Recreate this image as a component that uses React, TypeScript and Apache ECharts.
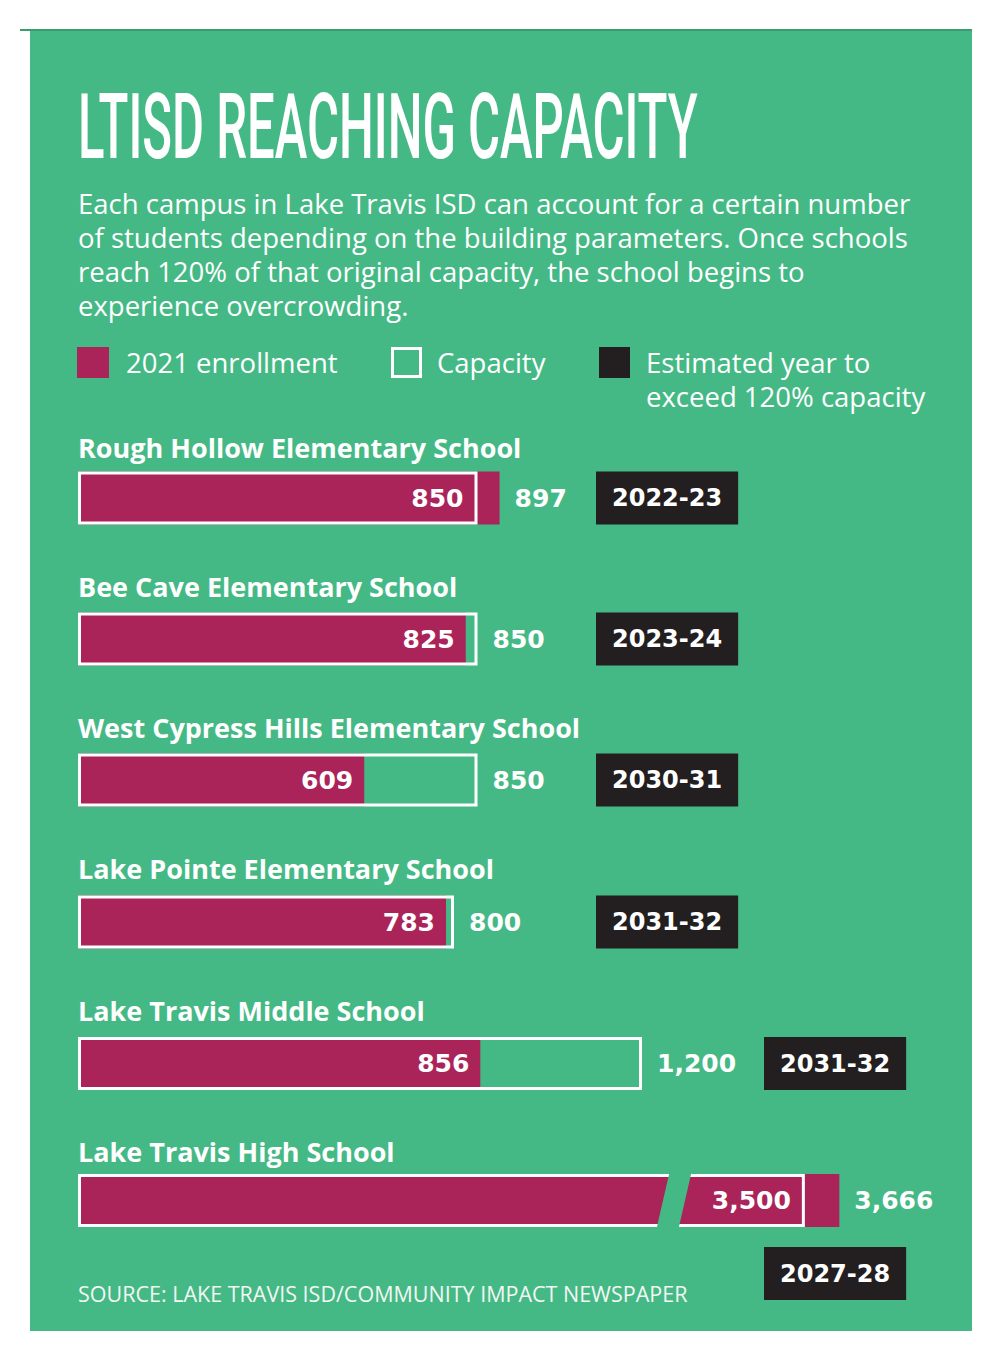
import React, { useEffect, useRef } from "react";
import * as echarts from "echarts";

// ---- data ----
const schools = [
  "Rough Hollow Elementary School",
  "Bee Cave Elementary School",
  "West Cypress Hills Elementary School",
  "Lake Pointe Elementary School",
  "Lake Travis Middle School",
  "Lake Travis High School",
];
const enrollment2021 = [897, 825, 609, 783, 856, 3666];
const capacity = [850, 850, 850, 800, 1200, 3500];
const exceedYear = ["2022-23", "2023-24", "2030-31", "2031-32", "2031-32", "2027-28"];
const axisMax = [1900, 1900, 1900, 1900, 1900, 4300];

const titleText = "LTISD REACHING CAPACITY";
const descriptionLines = [
  "Each campus in Lake Travis ISD can account for a certain number",
  "of students depending on the building parameters. Once schools",
  "reach 120% of that original capacity, the school begins to",
  "experience overcrowding.",
];
const legendLabels = ["2021 enrollment", "Capacity", "Estimated year to\nexceed 120% capacity"];
const sourceText = "SOURCE: LAKE TRAVIS ISD/COMMUNITY IMPACT NEWSPAPER";

// ---- layout / style ----
const GREEN = "#45B985";
const MAGENTA = "#AA245A";
const BLACK = "#231F20";
const rowCenters = [498, 639, 780, 922, 1063.5, 1200.5];
const nameY = [447, 586, 727, 868, 1010, 1151];
const yearBoxX = [596, 596, 596, 596, 764, 764];
const yearBoxY = [498, 639, 780, 922, 1063.5, 1273.5];
const BAR_W = 53;
const BODY_SIZE = 27.5;
const numFont = { fontFamily: "DejaVu Sans", fontWeight: "bold" as const, fontSize: 25, color: "#fff" };
const fmt = (v: number) => v.toLocaleString("en-US");

export default function App() {
  const ref = useRef<HTMLDivElement>(null);
  useEffect(() => {
    if (!ref.current) return;
    const chart = echarts.init(ref.current, undefined, { renderer: "svg" });

    const grids: any[] = [];
    const xAxes: any[] = [];
    const yAxes: any[] = [];
    const series: any[] = [];
    schools.forEach((s, i) => {
      grids.push({ left: 78, width: 893, top: rowCenters[i] - 27.5, height: 55 });
      xAxes.push({ type: "value", gridIndex: i, min: 0, max: axisMax[i], show: false });
      yAxes.push({ type: "category", gridIndex: i, data: [s], show: false });
      const e = enrollment2021[i];
      const c = capacity[i];
      series.push({
        type: "bar",
        name: legendLabels[0],
        xAxisIndex: i,
        yAxisIndex: i,
        barWidth: BAR_W,
        barGap: "-100%",
        silent: true,
        itemStyle: { color: MAGENTA },
        label: { show: true, ...numFont, formatter: (p: any) => fmt(p.value) },
        data: [
          {
            value: e,
            label: e <= c ? { position: "insideRight", distance: 11 } : { position: "right", distance: 15 },
          },
        ],
      });
      series.push({
        type: "bar",
        name: legendLabels[1],
        xAxisIndex: i,
        yAxisIndex: i,
        barWidth: BAR_W,
        barGap: "-100%",
        silent: true,
        itemStyle: { color: "rgba(0,0,0,0)", borderColor: "#fff", borderWidth: 3 },
        label: { show: true, ...numFont, formatter: (p: any) => fmt(p.value) },
        data: [
          {
            value: c,
            label: c >= e ? { position: "right", distance: 15 } : { position: "insideRight", distance: 14 },
          },
        ],
      });
    });

    const bodyText = (text: string, x: number, y: number, extra: any = {}) => ({
      type: "text",
      x,
      y,
      z: 10,
      style: {
        text,
        fill: "#fff",
        fontFamily: "Open Sans",
        fontSize: BODY_SIZE,
        verticalAlign: "middle",
        ...extra,
      },
    });

    const graphic: any[] = [
      { type: "rect", z: -10, shape: { x: 30, y: 30, width: 942, height: 1301 }, style: { fill: GREEN } },
      { type: "rect", z: -9, shape: { x: 20, y: 29, width: 952, height: 2 }, style: { fill: "#3A9C6E" } },
      {
        type: "text",
        x: 78,
        y: 128,
        scaleX: 0.545,
        z: 10,
        style: {
          text: titleText,
          fill: "#fff",
          fontFamily: "Roboto",
          fontWeight: 500,
          fontSize: 90,
          align: "left",
          verticalAlign: "middle",
        },
      },
      bodyText(descriptionLines.join("\n"), 78, 186, { lineHeight: 34, verticalAlign: "top" }),
      { type: "rect", z: 10, shape: { x: 77, y: 347, width: 32, height: 31 }, style: { fill: MAGENTA } },
      bodyText(legendLabels[0], 126, 362),
      {
        type: "rect",
        z: 10,
        shape: { x: 392.5, y: 348.5, width: 28, height: 28 },
        style: { fill: "none", stroke: "#fff", lineWidth: 3 },
      },
      bodyText(legendLabels[1], 437, 362),
      { type: "rect", z: 10, shape: { x: 599, y: 347, width: 31, height: 31 }, style: { fill: BLACK } },
      bodyText(legendLabels[2], 646, 345, { lineHeight: 34, verticalAlign: "top" }),
      bodyText(sourceText, 78, 1293, { fontSize: 21.5, fill: "#F2F7F3" }),
      // break mark on the high school bar
      {
        type: "polygon",
        z: 100,
        shape: { points: [[670, 1170], [692, 1170], [678, 1231], [656, 1231]] },
        style: { fill: GREEN },
      },
    ];
    schools.forEach((s, i) => {
      graphic.push({
        type: "text",
        x: 78,
        y: nameY[i],
        z: 10,
        style: {
          text: s,
          fill: "#fff",
          fontFamily: "Open Sans",
          fontWeight: "bold",
          fontSize: 27,
          verticalAlign: "middle",
        },
      });
      graphic.push({
        type: "text",
        x: yearBoxX[i],
        y: yearBoxY[i],
        z: 10,
        style: {
          text: exceedYear[i],
          fill: "#fff",
          fontFamily: "DejaVu Sans",
          fontWeight: "bold",
          fontSize: 24,
          lineHeight: 27,
          backgroundColor: BLACK,
          padding: [13, 16],
          verticalAlign: "middle",
        },
      });
    });

    chart.setOption({
      animation: false,
      backgroundColor: "#fff",
      grid: grids,
      xAxis: xAxes,
      yAxis: yAxes,
      series,
      graphic,
    });
    return () => chart.dispose();
  }, []);
  return (
    <div
      ref={ref}
      style={{ position: "absolute", left: 0, top: 0, width: 1000, height: 1358 }}
    />
  );
}
